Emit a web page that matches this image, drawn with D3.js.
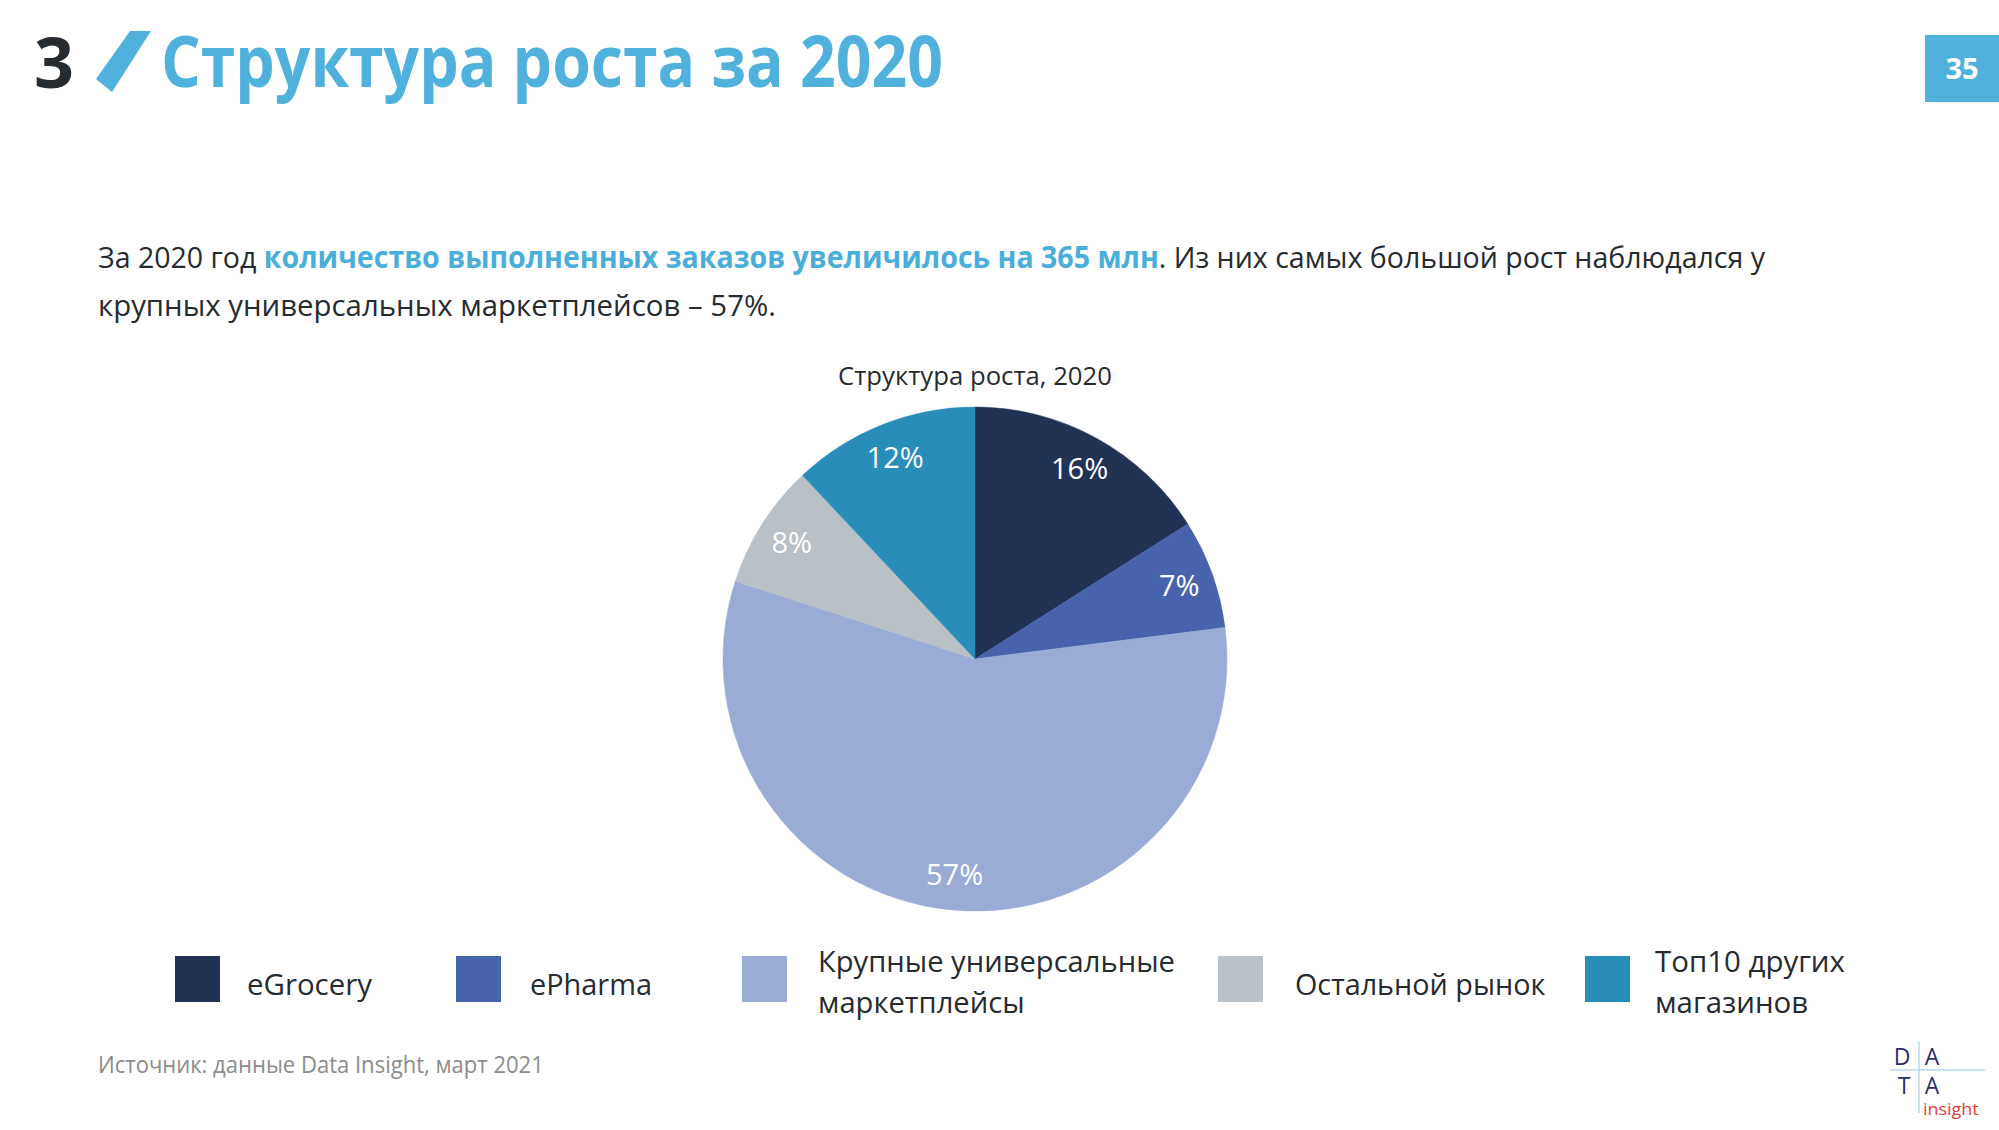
<!DOCTYPE html>
<html>
<head>
<meta charset="utf-8">
<script src="https://cdn.jsdelivr.net/npm/d3@7"></script>
<style>
  html, body { margin: 0; padding: 0; background: #fff; }
  svg { display: block; }
  text { font-family: "Open Sans", "Noto Sans", sans-serif; }
</style>
</head>
<body>
<svg id="chart" width="1999" height="1130"></svg>
<script>
// ---------- data ----------
const categories = ["eGrocery", "ePharma", "Крупные универсальные маркетплейсы", "Остальной рынок", "Топ10 других магазинов"];
const values = [16, 7, 57, 8, 12];
const valueLabels = ["16%", "7%", "57%", "8%", "12%"];
const legendLines = [["eGrocery"], ["ePharma"], ["Крупные универсальные", "маркетплейсы"], ["Остальной рынок"], ["Топ10 других", "магазинов"]];
const sliceColors = ["#223255", "#4763ac", "#9aabd6", "#b9c0c6", "#288db8"];

const pageTitleNumber = "3";
const pageTitle = "Структура роста за 2020";
const pageNumber = "35";
const chartTitle = "Структура роста, 2020";
const sourceText = "Источник: данные Data Insight, март 2021";
const paragraph1 = [
  {t: "За 2020 год ", blue: false},
  {t: "количество выполненных заказов увеличилось на 365 млн", blue: true},
  {t: ". Из них самых большой рост наблюдался у", blue: false}
];
const paragraph2 = [{t: "крупных универсальных маркетплейсов – 57%.", blue: false}];

// ---------- setup ----------
const svg = d3.select("#chart");
const BLUE = "#4fb1dc";
const DARK = "#262b30";

svg.append("rect").attr("width", 1999).attr("height", 1130).attr("fill", "#fff");

// helper: draw text in a group, then squeeze horizontally to target width
function fitText(g, x, y, width) {
  const w = g.node().getBBox().width;
  const sx = width / w;
  g.attr("transform", `translate(${x},${y}) scale(${sx},1)`);
}

// ---------- header ----------
svg.append("text").attr("x", 34).attr("y", 88)
  .attr("font-size", 70).attr("font-weight", 700).attr("fill", DARK)
  .text(pageTitleNumber);

svg.append("path")
  .attr("d", "M130,31 L151,31 L112,92 L96,79 Z")
  .attr("fill", BLUE);

{
  const g = svg.append("g");
  g.append("text").attr("x", 0).attr("y", 0)
    .attr("font-size", 71).attr("font-weight", 700).attr("fill", BLUE)
    .text(pageTitle);
  fitText(g, 161, 87, 782);
}

svg.append("rect").attr("x", 1925).attr("y", 35).attr("width", 74).attr("height", 67).attr("fill", BLUE);
svg.append("text").attr("x", 1962).attr("y", 79)
  .attr("text-anchor", "middle").attr("font-size", 29).attr("font-weight", 700).attr("fill", "#fff")
  .text(pageNumber);

// ---------- paragraph ----------
function para(parts, x, y, width) {
  const g = svg.append("g");
  const t = g.append("text").attr("x", 0).attr("y", 0).attr("font-size", 30);
  parts.forEach(p => {
    t.append("tspan")
      .attr("fill", p.blue ? "#4aaedb" : DARK)
      .attr("font-weight", p.blue ? 700 : 400)
      .text(p.t);
  });
  fitText(g, x, y, width);
}
para(paragraph1, 98, 268, 1669);
para(paragraph2, 98, 316, 678);

// ---------- chart title ----------
{
  const g = svg.append("g");
  g.append("text").attr("x", 0).attr("y", 0).attr("font-size", 25).attr("fill", DARK).text(chartTitle);
  fitText(g, 838, 385, 274);
}

// ---------- pie ----------
const cx = 975, cy = 659, R = 252, LR = 217;
const pie = d3.pie().sort(null).value(d => d.v).startAngle(0).endAngle(2 * Math.PI);
const arcs = pie(values.map((v, i) => ({v, i})));
const arc = d3.arc().innerRadius(0).outerRadius(R);
const labelArc = d3.arc().innerRadius(LR).outerRadius(LR);
const color = d3.scaleOrdinal().domain(categories).range(sliceColors);

const pg = svg.append("g").attr("transform", `translate(${cx},${cy})`);
pg.selectAll("path.slice").data(arcs).join("path")
  .attr("class", "slice")
  .attr("d", arc)
  .attr("fill", d => color(categories[d.data.i]))
  .attr("stroke", d => color(categories[d.data.i]))
  .attr("stroke-width", 0.5);

pg.selectAll("text.lbl").data(arcs).join("text")
  .attr("class", "lbl")
  .attr("transform", d => `translate(${labelArc.centroid(d)})`)
  .attr("text-anchor", "middle")
  .attr("dy", "0.36em")
  .attr("font-size", 29)
  .attr("fill", "#fff")
  .text(d => valueLabels[d.data.i]);

// ---------- legend ----------
const legendX = [175, 456, 742, 1218, 1585];
const legendTextX = [247, 530, 818, 1295, 1655];
const legendTextW = [[126], [122], [357, 0], [251], [190, 0]];
legendLines.forEach((lines, i) => {
  svg.append("rect").attr("x", legendX[i]).attr("y", 956).attr("width", 45).attr("height", 46)
    .attr("fill", color(categories[i]));
  if (lines.length === 1) {
    const g = svg.append("g");
    g.append("text").attr("font-size", 30).attr("fill", DARK).text(lines[0]);
    fitText(g, legendTextX[i], 995, legendTextW[i][0]);
  } else {
    const g = svg.append("g");
    const t1 = g.append("text").attr("x", 0).attr("y", 0).attr("font-size", 30).attr("fill", DARK).text(lines[0]);
    g.append("text").attr("x", 0).attr("y", 41).attr("font-size", 30).attr("fill", DARK).text(lines[1]);
    const w = t1.node().getComputedTextLength();
    const sx = legendTextW[i][0] / w;
    g.attr("transform", `translate(${legendTextX[i]},${972}) scale(${sx},1)`);
  }
});

// ---------- source ----------
{
  const g = svg.append("g");
  g.append("text").attr("font-size", 23).attr("fill", "#8c8c8c").text(sourceText);
  fitText(g, 98, 1073, 446);
}

// ---------- logo ----------
const logo = svg.append("g");
logo.append("line").attr("x1", 1919).attr("x2", 1919).attr("y1", 1042).attr("y2", 1113)
  .attr("stroke", "#b7d9ee").attr("stroke-width", 1.5);
logo.append("line").attr("x1", 1890).attr("x2", 1985).attr("y1", 1070).attr("y2", 1070)
  .attr("stroke", "#b7d9ee").attr("stroke-width", 1.5);
[["D", 1902, 1065], ["A", 1932, 1065], ["T", 1904, 1094], ["A", 1932, 1094]].forEach(([s, x, y]) => {
  logo.append("text").attr("x", x).attr("y", y).attr("text-anchor", "middle")
    .attr("font-family", "Liberation Sans").attr("font-size", 23).attr("fill", "#2b2f6b").text(s);
});
{
  const g = logo.append("g");
  g.append("text").attr("font-family", "Liberation Sans").attr("font-size", 16)
    .attr("fill", "#e53935").text("insight");
  fitText(g, 1923, 1115, 56);
}
</script>
</body>
</html>
